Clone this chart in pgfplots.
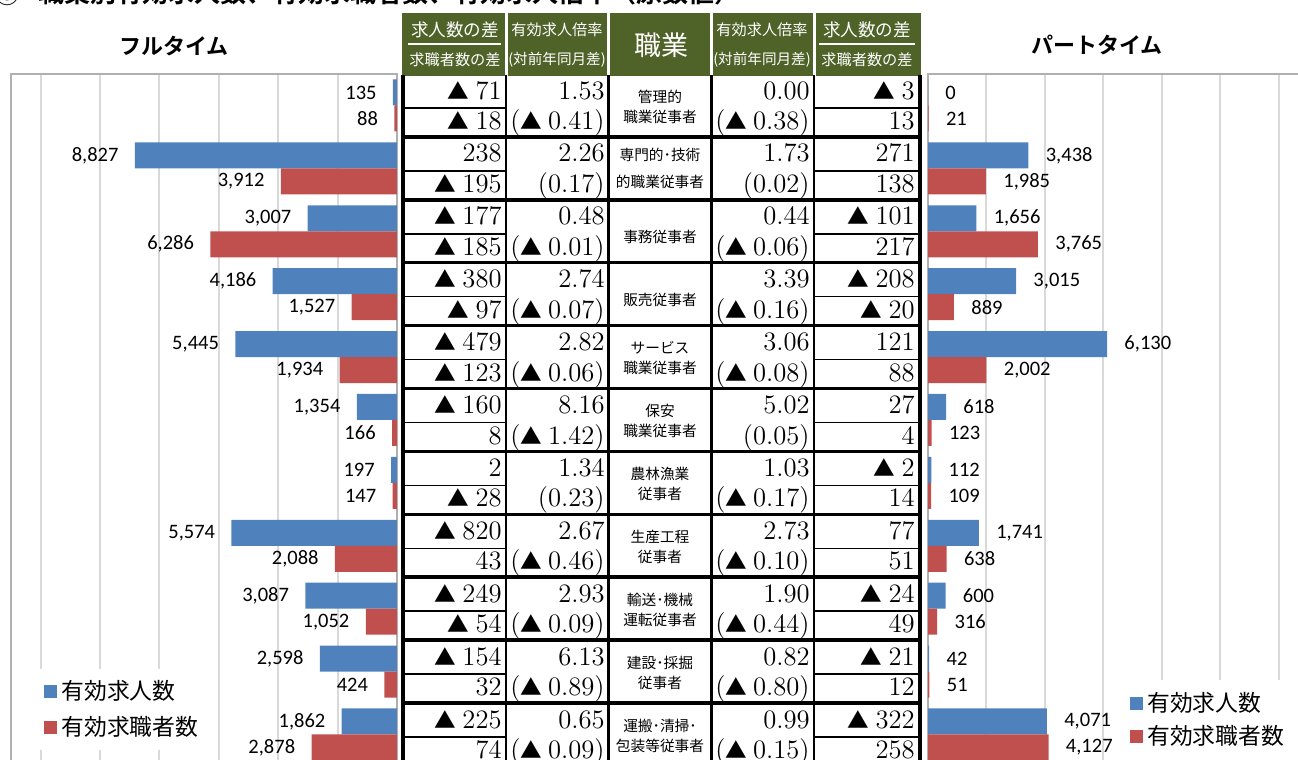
\documentclass[border=0pt]{standalone}
\usepackage{pgfplots}
\pgfplotsset{compat=1.18}
\usepackage{fontspec}
\newfontfamily\cjk[BoldFont={Noto Sans CJK JP Bold}]{Noto Sans CJK JP}
\newfontfamily\carlito{Carlito}
\definecolor{barblue}{HTML}{4F81BD}
\definecolor{barred}{HTML}{C0504D}
\definecolor{hdrgreen}{HTML}{4F6228}
\definecolor{gridgray}{HTML}{D9D9D9}
\definecolor{bordergray}{HTML}{B0B0B0}
\newcommand\fs[1]{\fontsize{#1}{#1}\selectfont}
\newcommand\tri{{\cjk\fs{10.8}▲}\hspace{3pt}}
\newcommand\trow[9]{%
 \pgfmathsetmacro\T{74+62.9*#1}%
 \node[num] at (502,{\T+25}) {#2};
 \node[num] at (502,{\T+55.5}) {#3};
 \node[num] at (605,{\T+25}) {#4};
 \node[num] at (605,{\T+55.5}) {#5};
 \node[num] at (810,{\T+25}) {#6};
 \node[num] at (810,{\T+55.5}) {#7};
 \node[num] at (915,{\T+25}) {#8};
 \node[num] at (915,{\T+55.5}) {#9};
}
\newcommand\jn[3]{%
 \pgfmathsetmacro\T{74+62.9*#1}%
 \node[job] at (660,{\T+22.5}) {#2};
 \node[job] at (660,{\T+42.5}) {#3};
}
\newcommand\jone[2]{%
 \pgfmathsetmacro\T{74+62.9*#1}%
 \node[job] at (660,{\T+37.5}) {#2};
}
\pgfplotsset{
 mychart/.style={
  scale only axis, height=345.95pt,
  ymin=-0.5, ymax=10.5, y dir=reverse,
  xbar, bar width=13pt,
  ytick=\empty,
  xtick={0,2000,...,14000}, xticklabels={},
  major tick length=0pt,
  xmajorgrids, grid style={line width=1pt, draw=gridgray},
  axis line style={line width=0.75pt, draw=bordergray},
  /pgf/number format/1000 sep={,},
  /pgf/number format/assume math mode=true,
  nodes near coords,
  every node near coord/.append style={font=\carlito\fs{10.25}, inner sep=0pt, text=black},
  legend style={font=\cjk\fs{11.4}, draw=none, fill=white, legend cell align=left,
    row sep=2.5pt, inner xsep=4pt, inner ysep=4pt},
  legend image code/.code={\fill[##1] (0pt,-3.25pt) rectangle (6.5pt,3.25pt);},
 }
}
\begin{document}
\begin{tikzpicture}
\useasboundingbox (0,0) rectangle (649pt,-380pt);
% ---- full time ----
\begin{axis}[mychart, at={(5.5pt,-37pt)}, anchor=north west,
  width=193pt, xmin=0, xmax=13000, x dir=reverse,
  every node near coord/.append style={anchor=east, xshift=-8pt},
  legend style={at={(0.065,0.141)}, anchor=north west}]
\addplot[fill=barblue, draw=none, bar shift=6.5pt] coordinates {
 (135,0) (8827,1) (3007,2) (4186,3) (5445,4) (1354,5) (197,6) (5574,7) (3087,8) (2598,9) (1862,10)};
\addplot[fill=barred, draw=none, bar shift=-6.5pt] coordinates {
 (88,0) (3912,1) (6286,2) (1527,3) (1934,4) (166,5) (147,6) (2088,7) (1052,8) (424,9) (2878,10)};
\legend{有効求人数,有効求職者数}
\end{axis}
% ---- part time ----
\begin{axis}[mychart, at={(464pt,-37pt)}, anchor=north west,
  width=204.5pt, xmin=0, xmax=14000,
  every node near coord/.append style={anchor=west, xshift=8.5pt},
  legend style={at={(0.474,0.1245)}, anchor=north west, row sep=1.5pt}]
\addplot[fill=barblue, draw=none, bar shift=6.5pt] coordinates {
 (0,0) (3438,1) (1656,2) (3015,3) (6130,4) (618,5) (112,6) (1741,7) (600,8) (42,9) (4071,10)};
\addplot[fill=barred, draw=none, bar shift=-6.5pt] coordinates {
 (21,0) (1985,1) (3765,2) (889,3) (2002,4) (123,5) (109,6) (638,7) (316,8) (51,9) (4127,10)};
\legend{有効求人数,有効求職者数}
\end{axis}
% ---- table and texts ----
\begin{scope}[x=0.5pt,y=-0.5pt,
  num/.style={anchor=base east, inner sep=0pt, font=\fs{13.3}},
  job/.style={inner sep=0pt, font=\cjk\fs{7.35}},
  hd/.style={inner sep=0pt, text=white, font=\cjk}]
\node[inner sep=0pt, font=\cjk\bfseries\fs{12}] at (8,-6) {③};
\node[anchor=west, inner sep=0pt, font=\cjk\bfseries\fs{13}] at (38,-7) {職業別有効求人数、有効求職者数、有効求人倍率（原数値）};
\node[inner sep=0pt, font=\cjk\bfseries\fs{11}] at (174,46) {フルタイム};
\node[inner sep=0pt, font=\cjk\bfseries\fs{11}] at (1097,45) {パートタイム};
% header
\fill[hdrgreen] (402,13) rectangle (921,76);
\foreach \xx in {506,608,711,814} \draw[white, line width=1.5pt] (\xx,13) -- (\xx,76);
\draw[white, line width=1pt] (408,44) -- (501,44);
\draw[white, line width=1pt] (819,44) -- (915,44);
\node[hd, font=\cjk\fs{8.8}] at (455,30) {求人数の差};
\node[hd, font=\cjk\fs{7.6}] at (455,60) {求職者数の差};
\node[hd, font=\cjk\fs{7.6}] at (557,30) {有効求人倍率};
\node[hd, font=\cjk\fs{7.3}] at (557,60) {(対前年同月差)};
\node[hd, font=\cjk\fs{13.5}] at (661,45) {職業};
\node[hd, font=\cjk\fs{7.6}] at (762,30) {有効求人倍率};
\node[hd, font=\cjk\fs{7.3}] at (762,60) {(対前年同月差)};
\node[hd, font=\cjk\fs{8.8}] at (867,30) {求人数の差};
\node[hd, font=\cjk\fs{7.6}] at (867,60) {求職者数の差};
% body
\fill[white] (403,76) rectangle (920,780);
\foreach \k in {1,...,10} \draw[line width=1.75pt] (403,{74+62.9*\k}) -- (920,{74+62.9*\k});
\foreach \k in {0,...,10} {
  \draw[line width=0.75pt] (403,{74+62.9*\k+34}) -- (506,{74+62.9*\k+34});
  \draw[line width=0.75pt] (814,{74+62.9*\k+34}) -- (920,{74+62.9*\k+34});
}
\draw[line width=1pt] (506,75) -- (506,780);
\draw[line width=1pt] (814,75) -- (814,780);
\draw[line width=1.5pt] (608,75) -- (608,780);
\draw[line width=1.5pt] (711,75) -- (711,780);
\draw[line width=2pt] (403,75) -- (403,780);
\draw[line width=2pt] (920,75) -- (920,780);
% rows
\trow{0}{\tri 71}{\tri 18}{1.53}{(\tri 0.41)}{0.00}{(\tri 0.38)}{\tri 3}{13}
\trow{1}{238}{\tri 195}{2.26}{(0.17)}{1.73}{(0.02)}{271}{138}
\trow{2}{\tri 177}{\tri 185}{0.48}{(\tri 0.01)}{0.44}{(\tri 0.06)}{\tri 101}{217}
\trow{3}{\tri 380}{\tri 97}{2.74}{(\tri 0.07)}{3.39}{(\tri 0.16)}{\tri 208}{\tri 20}
\trow{4}{\tri 479}{\tri 123}{2.82}{(\tri 0.06)}{3.06}{(\tri 0.08)}{121}{88}
\trow{5}{\tri 160}{8}{8.16}{(\tri 1.42)}{5.02}{(0.05)}{27}{4}
\trow{6}{2}{\tri 28}{1.34}{(0.23)}{1.03}{(\tri 0.17)}{\tri 2}{14}
\trow{7}{\tri 820}{43}{2.67}{(\tri 0.46)}{2.73}{(\tri 0.10)}{77}{51}
\trow{8}{\tri 249}{\tri 54}{2.93}{(\tri 0.09)}{1.90}{(\tri 0.44)}{\tri 24}{49}
\trow{9}{\tri 154}{32}{6.13}{(\tri 0.89)}{0.82}{(\tri 0.80)}{\tri 21}{12}
\trow{10}{\tri 225}{74}{0.65}{(\tri 0.09)}{0.99}{(\tri 0.15)}{\tri 322}{258}
\jn{0}{管理的}{職業従事者}
\node[job] at (660,155) {専門的･技術};
\node[job] at (660,182) {的職業従事者};
\jone{2}{事務従事者}
\jone{3}{販売従事者}
\jn{4}{サービス}{職業従事者}
\jn{5}{保安}{職業従事者}
\jn{6}{農林漁業}{従事者}
\jn{7}{生産工程}{従事者}
\jn{8}{輸送･機械}{運転従事者}
\jn{9}{建設･採掘}{従事者}
\jn{10}{運搬･清掃･}{包装等従事者}
\end{scope}
\end{tikzpicture}
\end{document}
